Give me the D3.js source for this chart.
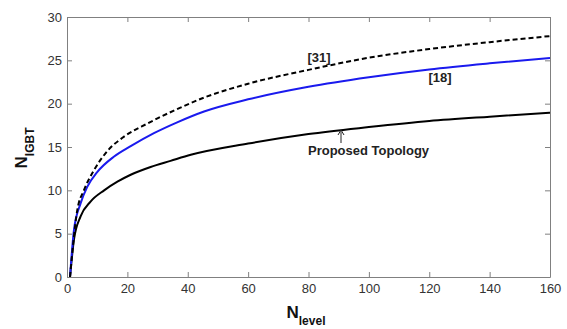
<!DOCTYPE html>
<html>
<head>
<meta charset="utf-8">
<script src="https://cdn.jsdelivr.net/npm/d3@7"></script>
<style>
  body { margin: 0; background: #fff; }
  svg { display: block; font-family: "Liberation Sans", Arial, sans-serif; }
  .axis path, .axis line { stroke: #808080; }
  .axis text { fill: #333; font-size: 13px; }
</style>
</head>
<body>
<svg id="plot" width="567" height="329"></svg>
<script>
// values: [N_level, N_IGBT]
const proposed = [[1, 0], [2.3, 4.3], [4.5, 7.0], [7.8, 8.7], [12.3, 10.0], [16.7, 11.0], [21.1, 11.8],
  [27.7, 12.7], [34.3, 13.4], [41, 14.1], [60, 15.4], [80, 16.5], [100, 17.3], [120, 18.0], [140, 18.5], [160, 18.95]];
const ref18 = [[1, 0], [2.3, 5.4], [4.5, 8.5], [6.7, 10.4], [10, 12.1], [15.6, 13.9], [21.1, 15.1],
  [28.8, 16.6], [36.5, 17.85], [45.4, 19.1], [60, 20.5], [80, 21.95], [100, 23.05], [120, 23.95], [140, 24.65], [160, 25.26]];
const ref31 = [[1, 0], [3.4, 7.7], [5.6, 10.0], [8.9, 12.3], [13.3, 14.5], [18.9, 16.2], [26.6, 17.7],
  [35.4, 19.2], [45.4, 20.7], [60, 22.3], [80, 23.9], [100, 25.3], [120, 26.3], [140, 27.1], [160, 27.8]];

const xTicks = [0, 20, 40, 60, 80, 100, 120, 140, 160];
const yTicks = [0, 5, 10, 15, 20, 25, 30];

const margin = { left: 67, right: 17, top: 17, bottom: 52 };
const width = 567, height = 329;

const svg = d3.select("#plot");

const x = d3.scaleLinear().domain([0, 160]).range([margin.left, width - margin.right]);
const y = d3.scaleLinear().domain([0, 30]).range([height - margin.bottom, margin.top]);

// axes, ticks pointing inward
svg.append("g")
  .attr("class", "axis")
  .attr("transform", `translate(0, ${y(0)})`)
  .call(d3.axisBottom(x).tickValues(xTicks).tickSizeInner(-5).tickSizeOuter(0).tickPadding(7));

svg.append("g")
  .attr("class", "axis")
  .attr("transform", `translate(${x(0)}, 0)`)
  .call(d3.axisLeft(y).tickValues(yTicks).tickSizeInner(-5).tickSizeOuter(0).tickPadding(5));

svg.append("g")
  .attr("class", "axis")
  .attr("transform", `translate(0, ${y(30)})`)
  .call(d3.axisTop(x).tickValues(xTicks).tickSizeInner(-5).tickSizeOuter(0).tickFormat(""));

svg.append("g")
  .attr("class", "axis")
  .attr("transform", `translate(${x(160)}, 0)`)
  .call(d3.axisRight(y).tickValues(yTicks).tickSizeInner(-5).tickSizeOuter(0).tickFormat(""));

const line = d3.line()
  .x(d => x(d[0]))
  .y(d => y(d[1]))
  .curve(d3.curveMonotoneX);

svg.append("path").datum(proposed)
  .attr("d", line).attr("fill", "none")
  .attr("stroke", "#000").attr("stroke-width", 2);

svg.append("path").datum(ref18)
  .attr("d", line).attr("fill", "none")
  .attr("stroke", "#1a1aee").attr("stroke-width", 2);

svg.append("path").datum(ref31)
  .attr("d", line).attr("fill", "none")
  .attr("stroke", "#000").attr("stroke-width", 2)
  .attr("stroke-dasharray", "5,3");

// annotations
svg.append("text")
  .attr("x", 319).attr("y", 62)
  .attr("text-anchor", "middle")
  .attr("font-size", 13).attr("font-weight", "bold").attr("fill", "#222")
  .text("[31]");

svg.append("text")
  .attr("x", 440).attr("y", 82)
  .attr("text-anchor", "middle")
  .attr("font-size", 13).attr("font-weight", "bold").attr("fill", "#222")
  .text("[18]");

svg.append("text")
  .attr("x", 308).attr("y", 155)
  .attr("font-size", 13).attr("font-weight", "bold").attr("fill", "#222")
  .text("Proposed Topology");

// small arrow pointing at the proposed curve
svg.append("line")
  .attr("x1", 341).attr("y1", 143)
  .attr("x2", 341).attr("y2", 132)
  .attr("stroke", "#222").attr("stroke-width", 1);
svg.append("path")
  .attr("d", "M338,135 L341,130 L344,135")
  .attr("fill", "none").attr("stroke", "#222").attr("stroke-width", 1);

// axis titles
const xt = svg.append("text")
  .attr("x", 306).attr("y", 318)
  .attr("text-anchor", "middle")
  .attr("font-weight", "bold").attr("fill", "#111");
xt.append("tspan").attr("font-size", 17).text("N");
xt.append("tspan").attr("font-size", 12).attr("dy", 7).text("level");

const yt = svg.append("text")
  .attr("transform", "translate(27, 148) rotate(-90)")
  .attr("text-anchor", "middle")
  .attr("font-weight", "bold").attr("fill", "#111");
yt.append("tspan").attr("font-size", 17).text("N");
yt.append("tspan").attr("font-size", 12).attr("dy", 7).text("IGBT");
</script>
</body>
</html>
